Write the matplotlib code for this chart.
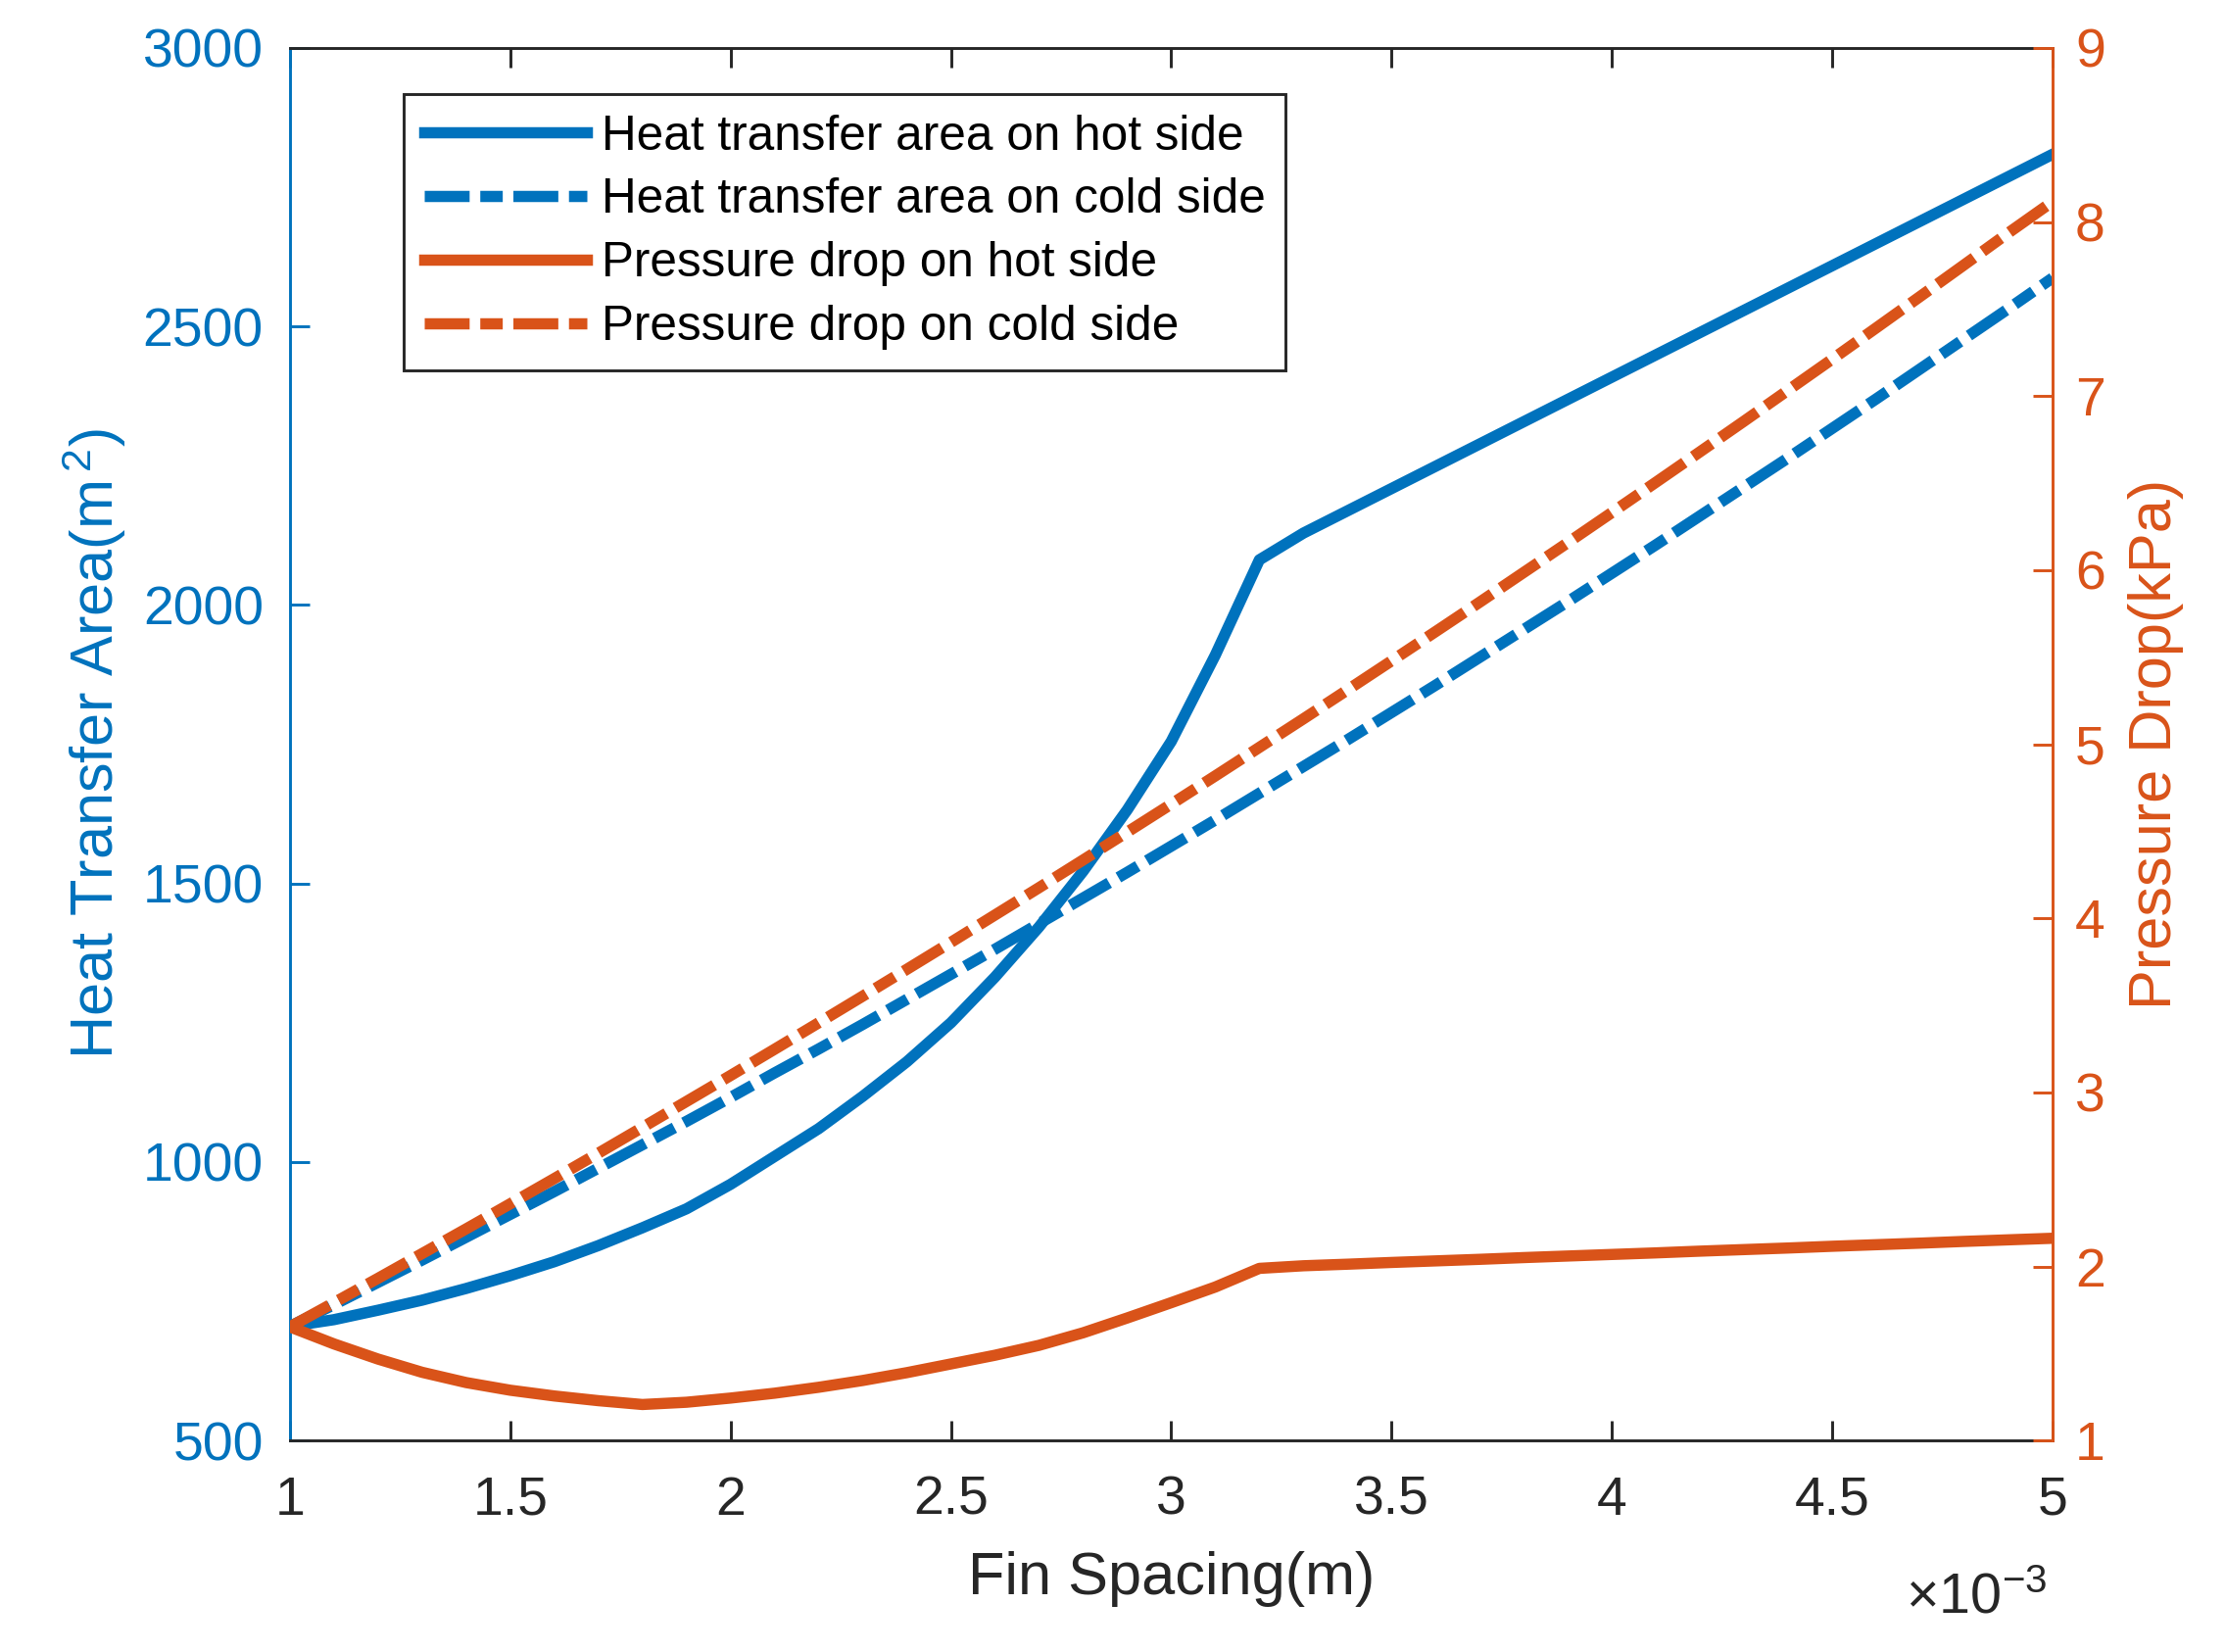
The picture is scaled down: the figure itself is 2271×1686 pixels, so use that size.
import matplotlib
matplotlib.use("Agg")
import matplotlib.pyplot as plt
from matplotlib.ticker import FormatStrFormatter

# ---- data (fin spacing in units of 1e-3 m) ----
fin_spacing = [1.0, 1.1, 1.2, 1.3, 1.4, 1.5, 1.6, 1.7, 1.8, 1.9,
               2.0, 2.1, 2.2, 2.3, 2.4, 2.5, 2.6, 2.7, 2.8, 2.9,
               3.0, 3.1, 3.2, 3.3, 3.4, 3.5, 3.6, 3.7, 3.8, 3.9,
               4.0, 4.1, 4.2, 4.3, 4.4, 4.5, 4.6, 4.7, 4.8, 4.9, 5.0]

area_hot = [705, 717, 734, 752, 773, 796, 821, 850, 882, 916,
            960, 1010, 1060, 1118, 1180, 1250, 1332, 1422, 1522, 1632,
            1755, 1910, 2081, 2129, 2169, 2209, 2249, 2289, 2329, 2369,
            2409, 2449, 2489, 2529, 2569, 2609, 2649, 2689, 2729, 2769, 2809]

area_cold = [705, 744, 784, 824, 865, 906, 947, 989, 1031, 1073,
             1116, 1160, 1203, 1247, 1292, 1337, 1382, 1428, 1474, 1520,
             1567, 1614, 1662, 1710, 1758, 1807, 1856, 1906, 1956, 2006,
             2057, 2108, 2160, 2212, 2264, 2317, 2370, 2424, 2478, 2532, 2587]

dp_hot = [1.653, 1.555, 1.468, 1.392, 1.333, 1.289, 1.256, 1.229, 1.207, 1.220,
          1.244, 1.272, 1.306, 1.345, 1.390, 1.440, 1.490, 1.547, 1.619, 1.704,
          1.792, 1.882, 1.989, 2.004, 2.013, 2.023, 2.032, 2.041, 2.051, 2.060,
          2.069, 2.078, 2.088, 2.097, 2.106, 2.116, 2.125, 2.134, 2.144, 2.153, 2.162]

dp_cold = [1.653, 1.792, 1.932, 2.074, 2.216, 2.360, 2.505, 2.651, 2.799, 2.948,
           3.097, 3.248, 3.400, 3.553, 3.707, 3.862, 4.019, 4.176, 4.335, 4.495,
           4.656, 4.818, 4.982, 5.146, 5.312, 5.479, 5.647, 5.816, 5.987, 6.158,
           6.331, 6.505, 6.680, 6.856, 7.034, 7.212, 7.392, 7.573, 7.755, 7.938, 8.117]

labels = ["Heat transfer area on hot side", "Heat transfer area on cold side",
          "Pressure drop on hot side", "Pressure drop on cold side"]

x_ticks = [1, 1.5, 2, 2.5, 3, 3.5, 4, 4.5, 5]
left_ticks = [500, 1000, 1500, 2000, 2500, 3000]
right_ticks = [1, 2, 3, 4, 5, 6, 7, 8, 9]

# ---- style ----
BLUE = (0.0, 0.447, 0.741)
ORANGE = (0.85, 0.325, 0.098)
DARK = (0.15, 0.15, 0.15)

plt.rcParams["font.family"] = ["Liberation Sans", "DejaVu Sans"]
plt.rcParams["mathtext.fontset"] = "custom"
plt.rcParams["mathtext.rm"] = "Liberation Sans"
plt.rcParams["mathtext.default"] = "regular"

fig = plt.figure(figsize=(2271 / 300, 1686 / 300), dpi=300)
ax = fig.add_axes([0.1303, 0.128, 0.7922, 0.843])
ax2 = ax.twinx()

lw = 2.75
dashdot = (0, (4.0, 0.95, 2.0, 0.95))

l1, = ax.plot(fin_spacing, area_hot, color=BLUE, lw=lw, label=labels[0])
l2, = ax.plot(fin_spacing, area_cold, color=BLUE, lw=lw, ls=dashdot, label=labels[1])
l3, = ax2.plot(fin_spacing, dp_hot, color=ORANGE, lw=lw, label=labels[2])
l4, = ax2.plot(fin_spacing, dp_cold, color=ORANGE, lw=lw, ls=dashdot, label=labels[3])

ax.set_xlim(1, 5)
ax.set_ylim(500, 3000)
ax2.set_ylim(1, 9)
ax.set_xticks(x_ticks)
ax.set_yticks(left_ticks)
ax2.set_yticks(right_ticks)
ax.xaxis.set_major_formatter(FormatStrFormatter("%g"))

tick_fs = 13.3
lab_fs = 14.7
ax.tick_params(axis="x", direction="in", length=4.7, width=0.7, top=True,
               color=DARK, labelcolor=DARK, labelsize=tick_fs, pad=8.5)
ax.tick_params(axis="y", direction="in", length=4.7, width=0.7, left=True, right=False,
               color=BLUE, labelcolor=BLUE, labelsize=tick_fs, pad=6.5)
ax2.tick_params(axis="y", direction="in", length=4.7, width=0.7, left=False, right=True,
                color=ORANGE, labelcolor=ORANGE, labelsize=tick_fs, pad=5.5)

for s in ["top", "bottom"]:
    ax.spines[s].set_color(DARK)
    ax.spines[s].set_linewidth(0.7)
ax.spines["left"].set_color(BLUE)
ax.spines["left"].set_linewidth(0.7)
ax.spines["right"].set_visible(False)
for s in ["top", "bottom", "left"]:
    ax2.spines[s].set_visible(False)
ax2.spines["right"].set_color(ORANGE)
ax2.spines["right"].set_linewidth(0.7)

ax.set_xlabel("Fin Spacing(m)", fontsize=lab_fs, color=DARK, labelpad=6)
ax.set_ylabel("Heat Transfer Area(m$^{\\,2}$)", fontsize=lab_fs, color=BLUE, labelpad=3.4)
ax2.set_ylabel("Pressure Drop(kPa)", fontsize=lab_fs, color=ORANGE, labelpad=5.6)

ax.text(0.997, -0.124, r"$\times10^{-3}$", transform=ax.transAxes,
        ha="right", va="baseline", fontsize=13.8, color=DARK)

leg = ax2.legend([l1, l2, l3, l4], labels, loc="upper left",
                 bbox_to_anchor=(0.0645, 0.967), borderaxespad=0,
                 fontsize=11.9, handlelength=3.35, handletextpad=0.3,
                 labelspacing=0.38, borderpad=0.42, fancybox=False,
                 framealpha=1, edgecolor=DARK)
leg.get_frame().set_linewidth(0.7)

fig.savefig("out.png", dpi=300)
